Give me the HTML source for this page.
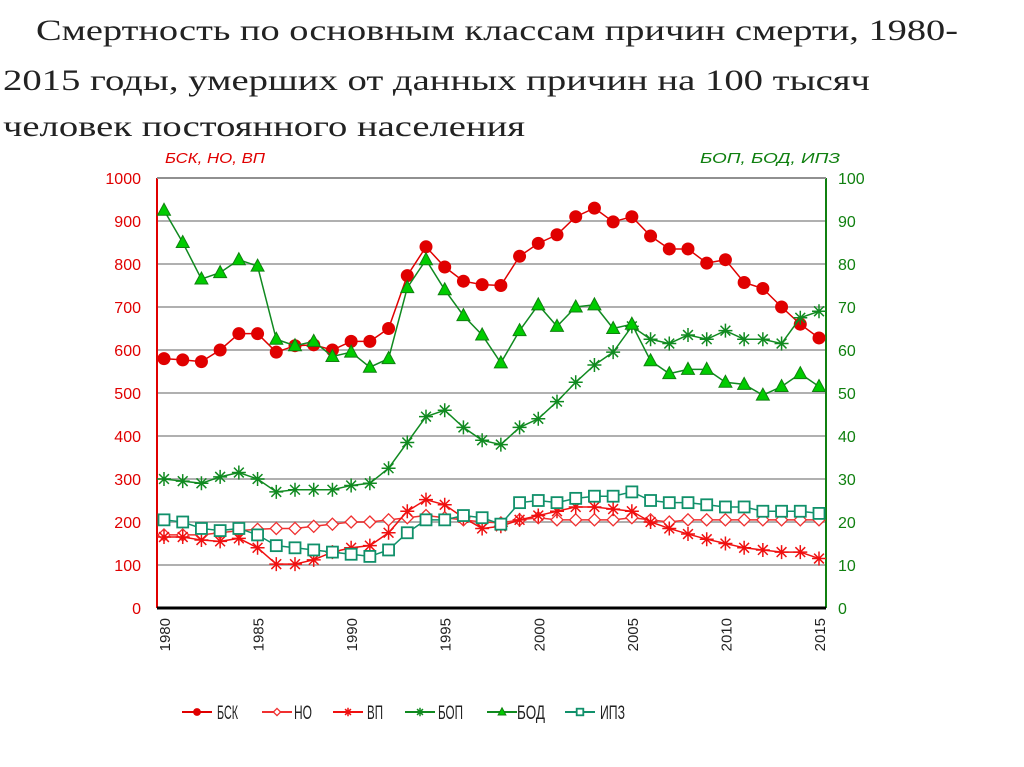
<!DOCTYPE html>
<html><head><meta charset="utf-8"><style>
html,body{margin:0;padding:0;background:#fff;}
svg{display:block;font-family:"Liberation Sans",sans-serif;}
</style></head><body>
<svg id="chart" width="1024" height="767" viewBox="0 0 1024 767" xmlns="http://www.w3.org/2000/svg">
<g font-family="Liberation Serif, serif" font-size="30" fill="#222">
<text x="36" y="40" textLength="922" lengthAdjust="spacingAndGlyphs">Смертность по основным классам причин смерти, 1980-</text>
<text x="3" y="90" textLength="867" lengthAdjust="spacingAndGlyphs">2015 годы, умерших от данных причин на 100 тысяч</text>
<text x="3" y="136" textLength="522" lengthAdjust="spacingAndGlyphs">человек постоянного населения</text>
</g>
<text x="165" y="163" font-size="15" font-style="italic" fill="#e00000" textLength="100" lengthAdjust="spacingAndGlyphs">БСК, НО, ВП</text>
<text x="700" y="163" font-size="15" font-style="italic" fill="#108010" textLength="140" lengthAdjust="spacingAndGlyphs">БОП, БОД, ИПЗ</text>
<g id="grid"></g><g id="axes"></g><g id="series"></g><g id="legend"></g>
</svg>
<script>
const years=[];for(let y=1980;y<=2015;y++)years.push(y);
const bsk=[580,577,573,600,638,638,595,610,612,600,620,620,650,773,840,793,760,752,750,818,848,868,910,930,898,910,865,835,835,802,810,757,743,700,660,628];
const no=[170,170,170,175,180,183,185,185,190,195,200,200,205,210,215,210,205,200,198,205,210,205,205,205,205,210,205,200,205,205,205,205,205,205,205,205];
const vp=[165,165,158,155,162,140,102,102,112,130,140,145,175,225,252,240,210,185,190,205,215,225,235,235,230,225,200,185,172,160,150,140,135,130,130,115];
const bop=[30,29.5,29,30.5,31.5,30,27,27.5,27.5,27.5,28.5,29,32.5,38.5,44.5,46,42,39,38,42,44,48,52.5,56.5,59.5,65.5,62.5,61.5,63.5,62.5,64.5,62.5,62.5,61.5,67.5,69];
const bod=[92.5,85,76.5,78,81,79.5,62.5,61,62,58.5,59.5,56,58,74.5,81,74,68,63.5,57,64.5,70.5,65.5,70,70.5,65,66,57.5,54.5,55.5,55.5,52.5,52,49.5,51.5,54.5,51.5];
const ipz=[20.5,20,18.5,18,18.5,17,14.5,14,13.5,13,12.5,12,13.5,17.5,20.5,20.5,21.5,21,19.5,24.5,25,24.5,25.5,26,26,27,25,24.5,24.5,24,23.5,23.5,22.5,22.5,22.5,22];
const leftTicks=[0,100,200,300,400,500,600,700,800,900,1000];
const rightTicks=[0,10,20,30,40,50,60,70,80,90,100];
const xTicks=[1980,1985,1990,1995,2000,2005,2010,2015];

const NS="http://www.w3.org/2000/svg";
const X0=157,X1=826,Y0=608,Y1=178;
const xs=y=>164+(y-1980)*(819-164)/35;
const yl=v=>Y0-(v/1000)*(Y0-Y1);
const yr=v=>Y0-(v/100)*(Y0-Y1);
function mk(tag,attrs,parent){const e=document.createElementNS(NS,tag);for(const k in attrs)e.setAttribute(k,attrs[k]);parent.appendChild(e);return e;}
const grid=document.getElementById('grid'),axes=document.getElementById('axes'),ser=document.getElementById('series'),leg=document.getElementById('legend');
leftTicks.forEach((t,i)=>{
  if(t>0){const l=mk('line',{x1:X0,x2:X1,y1:yl(t),y2:yl(t),stroke:'#b0b0b0','stroke-width':2},grid);
  
  }
  const tx=mk('text',{x:141,y:yl(t)+6,'text-anchor':'end','font-size':16,fill:'#e00000'},axes);tx.textContent=t;
  
  
});
rightTicks.forEach(t=>{
  const tx=mk('text',{x:838,y:yr(t)+6,'font-size':16,fill:'#108010'},axes);tx.textContent=t;
  
  
});
xTicks.forEach(t=>{
  const tx=mk('text',{x:0,y:0,'font-size':15,fill:'#222','text-anchor':'end',transform:`translate(${xs(t)+6},618) rotate(-90)`},axes);tx.textContent=t;
  
  
});
let a=mk('line',{x1:X0,x2:X0,y1:Y1,y2:Y0,stroke:'#e00000','stroke-width':2},axes);

a=mk('line',{x1:X1,x2:X1,y1:Y1,y2:Y0,stroke:'#108010','stroke-width':2},axes);

a=mk('line',{x1:X0,x2:X1,y1:Y0,y2:Y0,stroke:'#000','stroke-width':3},axes);

a=mk('line',{x1:X0,x2:X1,y1:Y1,y2:Y1,stroke:'#909090','stroke-width':2},axes);


function marker(type,x,y,c,g,s){
  s=s||1;
  if(type==='circle')mk('circle',{cx:x,cy:y,r:6.5*s,fill:'#e00000'},g);
  else if(type==='diamond')mk('path',{d:`M${x} ${y-6*s}L${x+6*s} ${y}L${x} ${y+6*s}L${x-6*s} ${y}Z`,fill:'#fff',stroke:c,'stroke-width':1.3},g);
  else if(type==='star'){const r=7*s;mk('path',{d:`M${x-r} ${y}H${x+r}M${x} ${y-r}V${y+r}M${x-r*.7} ${y-r*.7}L${x+r*.7} ${y+r*.7}M${x-r*.7} ${y+r*.7}L${x+r*.7} ${y-r*.7}`,stroke:c,'stroke-width':1.5,fill:'none'},g);}
  else if(type==='tri')mk('path',{d:`M${x} ${y-7*s}L${x+6.5*s} ${y+5*s}L${x-6.5*s} ${y+5*s}Z`,fill:'#00cc00',stroke:'#108010','stroke-width':1},g);
  else if(type==='square')mk('rect',{x:x-5.5*s,y:y-5.5*s,width:11*s,height:11*s,fill:'#fff',stroke:c,'stroke-width':1.8},g);
}
const defs=[
 ['bsk',bsk,yl,'#e00000','circle','БСК'],
 ['no',no,yl,'#f03030','diamond','НО'],
 ['vp',vp,yl,'#f01010','star','ВП'],
 ['bop',bop,yr,'#108a20','star','БОП'],
 ['bod',bod,yr,'#108a20','tri','БОД'],
 ['ipz',ipz,yr,'#10906a','square','ИПЗ']
];
defs.forEach(([id,data,yf,c,m])=>{
  const g=mk('g',{},ser);
  
  
  const pl=mk('polyline',{points:data.map((v,i)=>xs(years[i])+','+yf(v)).join(' '),fill:'none',stroke:c,'stroke-width':1.5},g);
  
  
  data.forEach((v,i)=>marker(m,xs(years[i]),yf(v),c,g));
});
const lx=[182,262,333,405,487,565];
const tx0=[217,294,367,438,517,600];
const lw=[21,18,16,25,28,25];
defs.forEach((d,i)=>{
  const g=mk('g',{},leg);
  
  
  mk('line',{x1:lx[i],x2:lx[i]+30,y1:712,y2:712,stroke:d[3],'stroke-width':2},g);
  marker(d[4],lx[i]+15,712,d[3],g,0.6);
  const t=mk('text',{x:tx0[i],y:719,'font-size':19,fill:'#222',textLength:lw[i],lengthAdjust:'spacingAndGlyphs'},g);t.textContent=d[5];
});
</script>
</body></html>
